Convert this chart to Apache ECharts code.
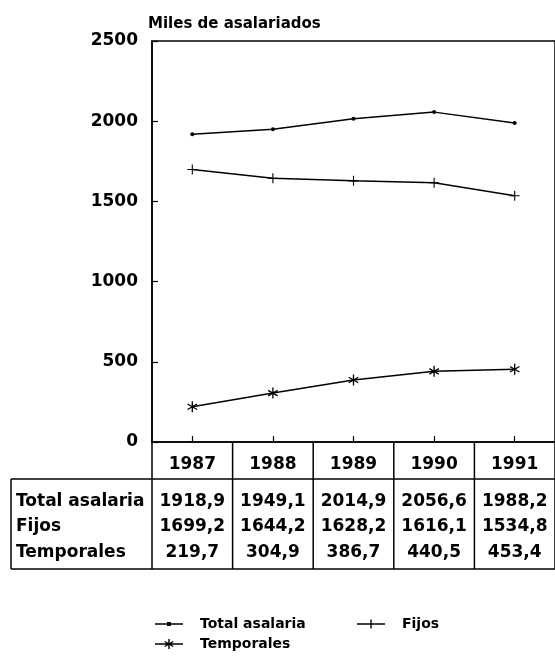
<!DOCTYPE html>
<html>
<head>
<meta charset="utf-8">
<script src="https://cdn.jsdelivr.net/npm/echarts@6/dist/echarts.min.js"></script>
<style>
  html, body { margin: 0; padding: 0; background: #fff; }
  #chart { width: 555px; height: 665px; }
</style>
</head>
<body>
<div id="chart"></div>
<script>
// ---- data ----
const years = ['1987', '1988', '1989', '1990', '1991'];
const totalAsalaria = [1918.9, 1949.1, 2014.9, 2056.6, 1988.2];
const fijos = [1699.2, 1644.2, 1628.2, 1616.1, 1534.8];
const temporales = [219.7, 304.9, 386.7, 440.5, 453.4];
const seriesNames = ['Total asalaria', 'Fijos', 'Temporales'];
const yAxisMax = 2500;
const yAxisStep = 500;
const titleText = 'Miles de asalariados';

// ---- style helpers ----
const FONT = '"DejaVu Sans", "Liberation Sans", sans-serif';
const INK = '#000';

function barPath(deg, t, cx, cy, r) {
  cx = cx || 0; cy = cy || 0; r = r || 1;
  const a = deg * Math.PI / 180;
  const c = Math.cos(a) * r, s = Math.sin(a) * r;
  const px = -Math.sin(a) * t, py = Math.cos(a) * t;
  const pts = [[c + px, s + py], [-c + px, -s + py], [-c - px, -s - py], [c - px, s - py]];
  return 'M' + pts.map(p => (cx + p[0]).toFixed(3) + ',' + (cy + p[1]).toFixed(3)).join('L') + 'Z';
}
const plusSymbol = 'path://' + barPath(0, 0.11) + ' ' + barPath(90, 0.11);
const starSymbol = 'path://' + barPath(90, 0.12) + ' ' + barPath(30, 0.12) + ' ' + barPath(150, 0.12);

// legend icons: short line with the marker in its middle
const iconTotal = 'path://M0,1.3H12.5V2.7H0Z M15.5,1.3H28V2.7H15.5Z M12,0H16V4H12Z';
const iconFijos = 'path://M0,3.8H28V5.2H0Z M13.3,0H14.7V9H13.3Z';
const iconTemp = 'path://M0,4.3H28V5.7H0Z ' + barPath(90, 0.7, 14, 5, 5) + ' ' + barPath(30, 0.7, 14, 5, 5) + ' ' + barPath(150, 0.7, 14, 5, 5);

const chart = echarts.init(document.getElementById('chart'), null, { renderer: 'canvas' });

const grid = { left: 152, top: 41, width: 405, height: 401 };

function legendFor(name, icon, ih, left, top) {
  return {
    data: [{ name: name, icon: icon }], left: left, top: top, orient: 'horizontal', padding: 0,
    itemWidth: 28, itemHeight: ih, selectedMode: false,
    itemStyle: { color: INK, borderWidth: 0 },
    textStyle: { fontFamily: FONT, fontWeight: 'bold', fontSize: 14, color: INK, padding: [0, 0, 0, 12] }
  };
}

const option = {
  backgroundColor: '#fff',
  animation: false,
  title: {
    text: titleText, left: 143, top: 12,
    textStyle: { fontFamily: FONT, fontWeight: 'bold', fontSize: 15, color: INK }
  },
  grid: Object.assign({ show: true, borderColor: INK, borderWidth: 1.5, backgroundColor: 'transparent' }, grid),
  legend: [
    legendFor(seriesNames[0], iconTotal, 4, 155, 617),
    legendFor(seriesNames[1], iconFijos, 9, 357, 617),
    legendFor(seriesNames[2], iconTemp, 10, 155, 637)
  ],
  xAxis: {
    type: 'category', data: years, boundaryGap: true,
    axisLine: { lineStyle: { color: INK, width: 1.5 } },
    axisTick: { show: true, alignWithLabel: true, inside: true, length: 6, lineStyle: { color: INK, width: 1.2 } },
    axisLabel: { margin: 14, fontFamily: FONT, fontWeight: 'bold', fontSize: 17, color: INK },
    splitLine: { show: false }
  },
  yAxis: {
    type: 'value', min: 0, max: yAxisMax, interval: yAxisStep,
    axisLine: { show: true, lineStyle: { color: INK, width: 1.5 } },
    axisTick: { show: true, inside: true, length: 6, lineStyle: { color: INK, width: 1.2 } },
    axisLabel: { margin: 14, fontFamily: FONT, fontWeight: 'bold', fontSize: 17, color: INK,
                 formatter: v => String(v) },
    splitLine: { show: false }
  },
  series: [
    {
      name: seriesNames[0], type: 'line', data: totalAsalaria,
      symbol: 'circle', symbolSize: 4,
      lineStyle: { color: INK, width: 1.5 }, itemStyle: { color: INK }
    },
    {
      name: seriesNames[1], type: 'line', data: fijos,
      symbol: plusSymbol, symbolSize: 10, symbolKeepAspect: true,
      lineStyle: { color: INK, width: 1.5 }, itemStyle: { color: INK }
    },
    {
      name: seriesNames[2], type: 'line', data: temporales,
      symbol: starSymbol, symbolSize: 11, symbolKeepAspect: true,
      lineStyle: { color: INK, width: 1.5 }, itemStyle: { color: INK }
    }
  ]
};
chart.setOption(option);

// ---- data table under the axis, positioned from the category axis ----
const tableLeft = 11;
const headerBottom = 479;
const tableBottom = 569;
const rowCenters = [502, 527, 553];
const tableRows = [totalAsalaria, fijos, temporales];

const centers = years.map(y => chart.convertToPixel({ xAxisIndex: 0 }, y));
const band = centers.length > 1 ? centers[1] - centers[0] : grid.width;
const bounds = [centers[0] - band / 2].concat(centers.map(c => c + band / 2));
const axisY = chart.convertToPixel({ yAxisIndex: 0 }, 0);
const rightEdge = bounds[bounds.length - 1];

const lineStyle = { stroke: INK, lineWidth: 1.5 };
const g = [];
function hline(x1, x2, y) { g.push({ type: 'line', shape: { x1: x1, y1: y, x2: x2, y2: y }, style: lineStyle, silent: true }); }
function vline(x, y1, y2) { g.push({ type: 'line', shape: { x1: x, y1: y1, x2: x, y2: y2 }, style: lineStyle, silent: true }); }
function text(str, x, y, align) {
  g.push({ type: 'text', silent: true, style: {
    text: str, x: x, y: y, textAlign: align, textVerticalAlign: 'middle',
    font: 'bold 17px ' + FONT, fill: INK } });
}

hline(tableLeft, rightEdge, headerBottom);
hline(tableLeft, rightEdge, tableBottom);
vline(tableLeft, headerBottom, tableBottom);
bounds.forEach(b => vline(b, axisY, tableBottom));

seriesNames.forEach((name, r) => {
  text(name, tableLeft + 5, rowCenters[r], 'left');
  tableRows[r].forEach((v, i) => {
    text(v.toFixed(1).replace('.', ','), centers[i], rowCenters[r], 'center');
  });
});

chart.setOption({ graphic: g });
</script>
</body>
</html>
